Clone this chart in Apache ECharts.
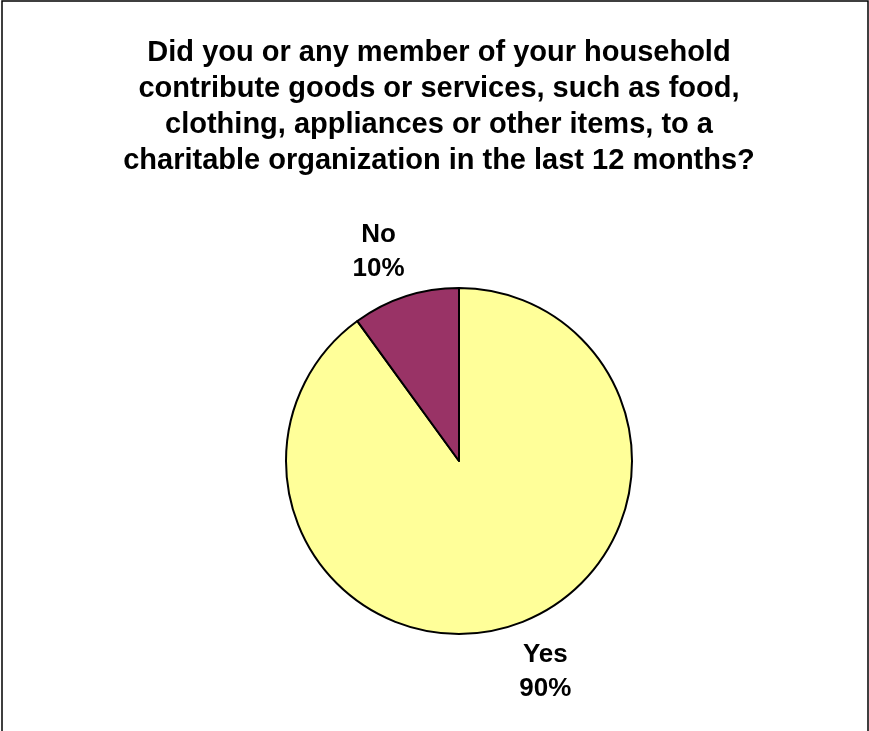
<!DOCTYPE html>
<html>
<head>
<meta charset="utf-8">
<script src="https://cdn.jsdelivr.net/npm/echarts@6/dist/echarts.min.js"></script>
<style>
  html, body { margin: 0; padding: 0; background: #fff; }
  #chart { width: 869px; height: 731px; }
</style>
</head>
<body>
<div id="chart"></div>
<script>
// Survey answers and their shares (percent)
const categories = ['Yes', 'No'];
const shares = [90, 10];
const sliceColors = ['#FFFF99', '#993366'];
const titleText = 'Did you or any member of your household\ncontribute goods or services, such as food,\nclothing, appliances or other items, to a\ncharitable organization in the last 12 months?';

const chart = echarts.init(document.getElementById('chart'), null, { renderer: 'canvas' });

const fontFamily = 'Liberation Sans, Arial, sans-serif';

// small nudges for the outside labels, keyed by slice name
const labelNudge = { Yes: [14, 3], No: [-8, -2] };

chart.setOption({
  backgroundColor: '#ffffff',
  animation: false,
  title: {
    text: titleText,
    left: 434,
    top: 30,
    textAlign: 'center',
    textStyle: {
      fontFamily: fontFamily,
      fontWeight: 'bold',
      fontSize: 29,
      lineHeight: 36,
      color: '#000'
    }
  },
  graphic: [{
    type: 'rect',
    shape: { x: 2, y: 1, width: 866, height: 760 },
    style: { fill: 'none', stroke: '#000', lineWidth: 1.5 },
    silent: true
  }],
  series: [{
    type: 'pie',
    center: [459, 461],
    radius: [0, 173],
    startAngle: 90,
    clockwise: true,
    data: categories.map((name, i) => ({
      name: name,
      value: shares[i],
      itemStyle: { color: sliceColors[i] }
    })),
    itemStyle: { borderColor: '#000', borderWidth: 2 },
    label: {
      show: true,
      position: 'outside',
      formatter: '{b}\n{d}%',
      fontFamily: fontFamily,
      fontWeight: 'bold',
      fontSize: 26,
      lineHeight: 34,
      color: '#000',
      align: 'center'
    },
    labelLine: { show: false, length: 45, length2: 0 },
    labelLayout: function (params) {
      const n = labelNudge[categories[params.dataIndex]] || [0, 0];
      return { align: 'center', dx: n[0], dy: n[1] };
    },
    emphasis: { disabled: true }
  }]
});
</script>
</body>
</html>
